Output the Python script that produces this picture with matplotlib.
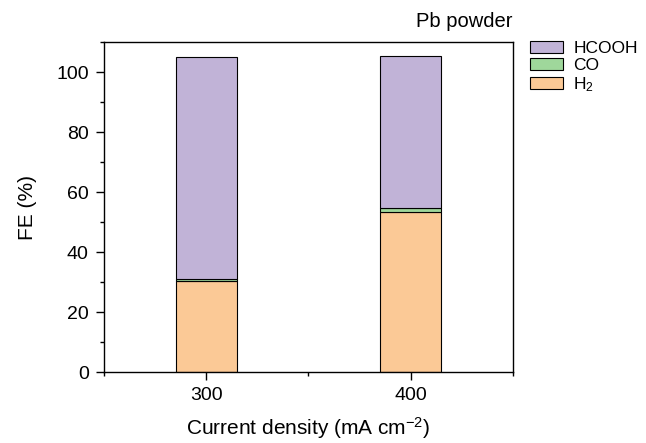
import numpy as np
import matplotlib
matplotlib.use('Agg')
import matplotlib.pyplot as plt
from matplotlib.ticker import MultipleLocator

plt.rcParams['font.family'] = ['Liberation Sans', 'DejaVu Sans']
plt.rcParams['mathtext.fontset'] = 'custom'
plt.rcParams['mathtext.rm'] = 'Liberation Sans'

# %% data
current = [300, 400]
fe_h2 = [30.3, 53.3]
fe_co = [0.8, 1.3]
fe_hcooh = [73.9, 50.7]

c_h2 = '#FBC996'
c_co = '#9FD79B'
c_hcooh = '#C1B3D7'

# %% plot
fig = plt.figure(figsize=(6.46, 4.43), dpi=100)
ax = fig.add_axes([0.161, 0.160, 0.633, 0.745])

x = np.array(current)
bottom_co = np.array(fe_h2)
bottom_hcooh = bottom_co + np.array(fe_co)
b1 = ax.bar(x, fe_h2, width=30, color=c_h2, edgecolor='black', linewidth=0.8, label='H$\\mathregular{_2}$')
b2 = ax.bar(x, fe_co, width=30, bottom=bottom_co, color=c_co, edgecolor='black', linewidth=0.8, label='CO')
b3 = ax.bar(x, fe_hcooh, width=30, bottom=bottom_hcooh, color=c_hcooh, edgecolor='black', linewidth=0.8, label='HCOOH')

ax.set_xlim(250, 450)
ax.set_ylim(0, 110)
ax.set_xticks(current)
ax.xaxis.set_minor_locator(MultipleLocator(50))
ax.yaxis.set_major_locator(MultipleLocator(20))
ax.yaxis.set_minor_locator(MultipleLocator(10))
ax.tick_params(axis='both', which='major', direction='out', length=6, width=1, labelsize=14, pad=5)
ax.tick_params(axis='both', which='minor', direction='out', length=3, width=1)
for sp in ax.spines.values():
    sp.set_linewidth(1)

ax.set_xlabel('Current density (mA cm$\\mathregular{^{-2}}$)', fontsize=15, labelpad=8)
ax.set_ylabel('FE (%)', fontsize=15, labelpad=14)
ax.set_title('Pb powder', loc='right', fontsize=14.5, pad=11)

ax.legend(handles=[b3, b2, b1], loc='upper left', bbox_to_anchor=(1.025, 1.025),
          frameon=False, fontsize=12.5, handlelength=1.9, handleheight=0.7,
          labelspacing=0.12, handletextpad=0.6, borderaxespad=0)

fig.savefig('out.png', dpi=100)
